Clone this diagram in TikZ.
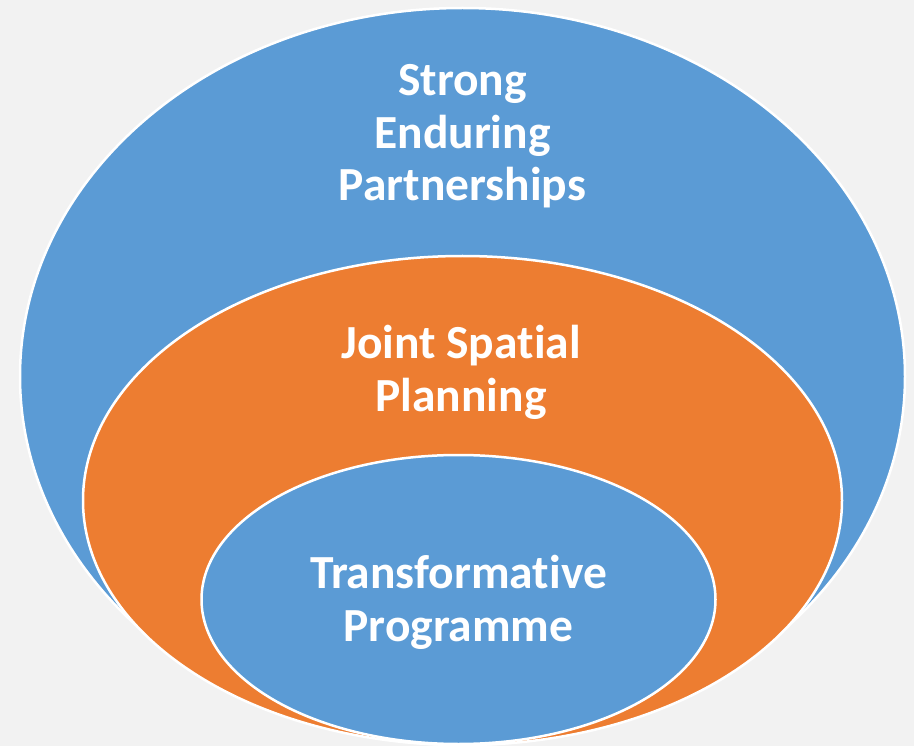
\documentclass[tikz,border=0pt]{standalone}
\usepackage{fontspec}
\setmainfont{Carlito}[Ligatures=NoCommon,RawFeature=-liga]
\definecolor{bgc}{HTML}{F2F2F2}
\definecolor{blu}{HTML}{5B9BD5}
\definecolor{org}{HTML}{ED7D31}
\tikzset{
  ring/.style={draw=white, line width=2.5pt},
  lbl/.style={text=white, font=\fontsize{47.5}{52.5}\selectfont\bfseries, align=center, inner sep=0pt, anchor=base}
}
\begin{document}
\begin{tikzpicture}[x=1pt,y=-1pt]
\fill[bgc] (0,0) rectangle (914,746);
\useasboundingbox (0,0) rectangle (914,746);
\begin{scope}
\clip (0,0) rectangle (914,746);
\draw[ring, fill=blu] (462.5,376.5) ellipse [x radius=442.5pt, y radius=368.5pt];
\draw[ring, fill=org] (462.5,500.5) ellipse [x radius=379.5pt, y radius=244.5pt];
\draw[ring, fill=blu] (458.5,599.5) ellipse [x radius=257pt, y radius=144.5pt];
\end{scope}
\node[lbl] (outer) at (462.5,201) {Strong\\Enduring\\Partnerships};
\node[lbl] (mid) at (461,411) {Joint Spatial\\Planning};
\node[lbl] (inner) at (458.5,641) {Transformative\\Programme};
\end{tikzpicture}
\end{document}
